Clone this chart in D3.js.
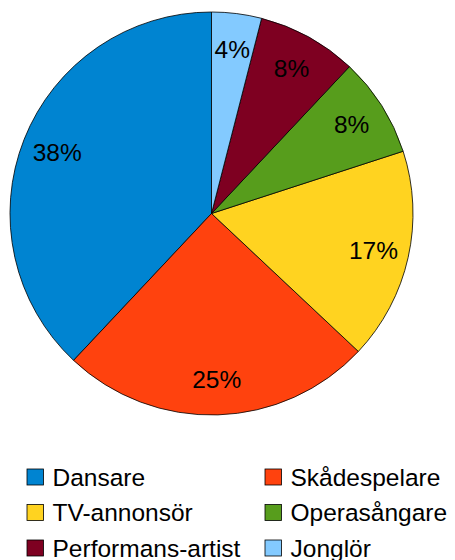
<!DOCTYPE html>
<html>
  <head>
    <meta charset="utf-8">
    <title>Yrken</title>
    <script src="https://d3js.org/d3.v7.min.js"></script>
    <style>
      body { margin: 0; background: #fff; }
      text { font-family: "Liberation Sans", Arial, sans-serif; fill: #000; }
    </style>
  </head>
  <body>
    <script>
        // data
        var categories = ["Dansare", "Skådespelare", "TV-annonsör", "Operasångare", "Performans-artist", "Jonglör"];
        var values = [38, 25, 17, 8, 8, 4];
        var colors = ["#0084d1", "#ff420e", "#ffd320", "#579d1c", "#7e0021", "#83caff"];

        var width = 455, height = 560;
        var cx = 211.5, cy = 213.5, radius = 201.5;

        var svg = d3.select("body").append("svg")
            .attr("width", width)
            .attr("height", height);

        var rows = categories.map(function(c, i) {
          return {name: c, value: values[i], color: colors[i]};
        });

        // counter-clockwise from 12 o'clock
        var pie = d3.pie()
            .sort(null)
            .value(function(d) { return d.value; })
            .startAngle(0)
            .endAngle(-2 * Math.PI);

        var arc = d3.arc().innerRadius(0).outerRadius(radius);
        var labelArc = d3.arc().innerRadius(166).outerRadius(166);

        var g = svg.append("g")
            .attr("transform", "translate(" + cx + "," + cy + ")");

        g.selectAll("path")
            .data(pie(rows))
            .enter()
            .append("path")
              .attr("d", arc)
              .attr("fill", function(d) { return d.data.color; })
              .attr("stroke", "#000")
              .attr("stroke-width", 0.8);

        g.selectAll(".lbl")
            .data(pie(rows))
            .enter()
            .append("text")
              .attr("class", "lbl")
              .attr("transform", function(d) { return "translate(" + labelArc.centroid(d) + ")"; })
              .attr("text-anchor", "middle")
              .attr("dy", "0.36em")
              .style("font-size", "24.5px")
              .text(function(d) { return d.data.value + "%"; });

        // legend, two columns
        var legend = svg.append("g");
        var item = legend.selectAll("g")
            .data(rows)
            .enter()
            .append("g")
              .attr("transform", function(d, i) {
                return "translate(" + (i % 2 ? 265 : 27) + "," + (469 + Math.floor(i / 2) * 35.5) + ")";
              });

        item.append("rect")
            .attr("width", 16.5)
            .attr("height", 16)
            .attr("fill", function(d) { return d.color; })
            .attr("stroke", "#000")
            .attr("stroke-width", 0.8);

        item.append("text")
            .attr("x", 25.5)
            .attr("y", 16.8)
            .style("font-size", "24.5px")
            .text(function(d) { return d.name; });
    </script>
  </body>
</html>
